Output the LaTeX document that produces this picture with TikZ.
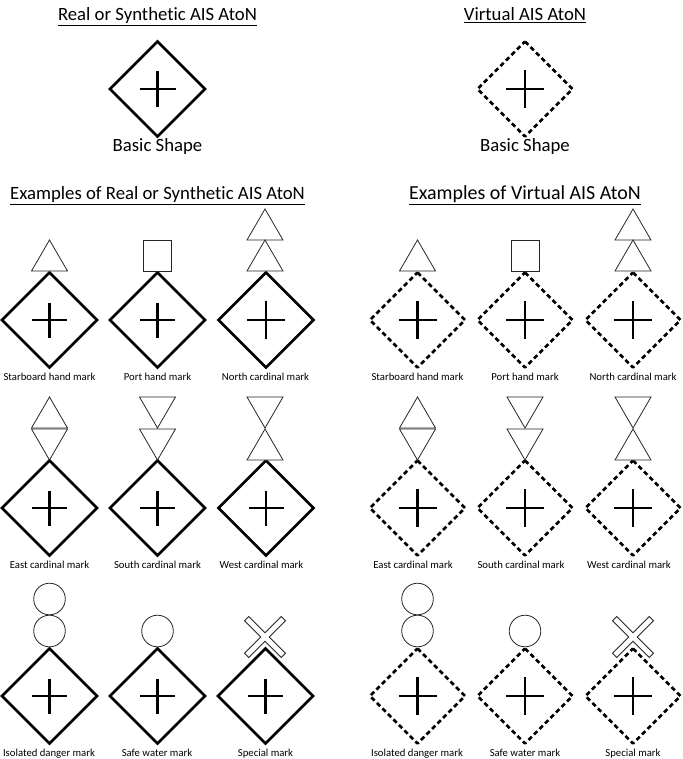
\documentclass[tikz,border=0pt]{standalone}
\usepackage{fontspec}
\setmainfont[Ligatures=NoCommon]{Carlito}
\tikzset{
  x=1pt,y=-1pt,
  title/.style={inner sep=0pt,font=\fontsize{18.75}{20}\selectfont,anchor=base},
  widetitle/.style={inner sep=0pt,font=\fontsize{19.95}{21}\selectfont,anchor=base},
  caption/.style={inner sep=0pt,font=\fontsize{10.7}{12}\selectfont,anchor=base,text=black},
  markshape/.style={draw=black!85,line width=0.8pt,fill=white,line join=miter},
  realline/.style={draw=black,line width=2.7pt,line join=miter},
  virtualline/.style={draw=black,line width=2.7pt,dash pattern=on 4.6pt off 3.2pt,line join=round},
  crossline/.style={draw=black,line width=2.8pt},
  pics/real/.style={code={
    \path[realline] (0,-47.5) -- (47.5,0) -- (0,47.5) -- (-47.5,0) -- cycle;
    \path[crossline] (-#1,0) -- (#1,0) (0,-#1) -- (0,#1);
  }},
  pics/virtual/.style={code={
    \path[virtualline] (0,-47.5) -- (47.5,0) -- (0,47.5) -- (-47.5,0) -- cycle;
    \path[crossline] (-#1,0) -- (#1,0) (0,-#1) -- (0,#1);
  }},
  % marks, drawn from the point given as the top of the 31 pt tall cell
  pics/up/.style={code={\path[markshape] (0,0) -- (18,31) -- (-18,31) -- cycle;}},
  pics/down/.style={code={\path[markshape] (-18,0) -- (18,0) -- (0,31) -- cycle;}},
  pics/box/.style={code={\path[markshape] (-14,0) rectangle (14,31);}},
  pics/ball/.style={code={\path[markshape] (0,16) circle[radius=15.8];}},
  pics/xmark/.style={code={\path[markshape,rotate=45]
     (-3,-26) -- (3,-26) -- (3,-3) -- (26,-3) -- (26,3) -- (3,3)
     -- (3,26) -- (-3,26) -- (-3,3) -- (-26,3) -- (-26,-3) -- (-3,-3) -- cycle;}},
}
\begin{document}
\begin{tikzpicture}
\useasboundingbox (0,0) rectangle (682,759);
% headings
\node[title] (t1) at (157.5,21) {\underline{Real or Synthetic AIS AtoN}};
\node[title] (t2) at (525,21) {\underline{Virtual AIS AtoN}};
\node[title] (t3) at (157.5,200) {\underline{Examples of Real or Synthetic AIS AtoN}};
\node[widetitle] (t4) at (525,200) {\underline{Examples of Virtual AIS AtoN}};
\node[title] (b1) at (157.5,152) {Basic Shape};
\node[title] (b2) at (525,152) {Basic Shape};
\pic at (157.5,89) {real=18};
\pic at (525,89) {virtual=19};
% row 1, left
\pic at (49.5,320) {real=17.5};
\pic at (157.5,320) {real=17.5};
\pic at (266,320) {real=19};
\pic at (49.5,240) {up};
\pic at (157.5,240) {box};
\pic at (265,209) {up};
\pic at (265,240) {up};
\node[caption] (l1) at (49.5,380) {Starboard hand mark};
\node[caption] (l2) at (157.5,380) {Port hand mark};
\node[caption] (l3) at (265.5,380) {North cardinal mark};
% row 1, right
\pic at (417.5,320) {virtual=19};
\pic at (525,320) {virtual=19};
\pic at (633,320) {virtual=19};
\pic at (417.5,240) {up};
\pic at (525,240) {box};
\pic at (633,209) {up};
\pic at (633,240) {up};
\node[caption] (r1) at (417.5,380) {Starboard hand mark};
\node[caption] (r2) at (525,380) {Port hand mark};
\node[caption] (r3) at (633,380) {North cardinal mark};
% row 2, left
\pic at (49.5,508) {real=17.5};
\pic at (157.5,508) {real=17.5};
\pic at (266,508) {real=17.5};
\pic at (49.5,397) {up};
\pic at (49.5,429) {down};
\pic at (157.5,397) {down};
\pic at (157.5,429) {down};
\pic at (265,397) {down};
\pic at (265,429) {up};
\node[caption] (l4) at (49.5,568) {East cardinal mark};
\node[caption] (l5) at (157.5,568) {South cardinal mark};
\node[caption] (l6) at (261.5,568) {West cardinal mark};
% row 2, right
\pic at (417.5,508) {virtual=19};
\pic at (525,508) {virtual=19};
\pic at (633,508) {virtual=19};
\pic at (417.5,397) {up};
\pic at (417.5,429) {down};
\pic at (525,397) {down};
\pic at (525,429) {down};
\pic at (633,397) {down};
\pic at (633,429) {up};
\node[caption] (r4) at (413,568) {East cardinal mark};
\node[caption] (r5) at (521,568) {South cardinal mark};
\node[caption] (r6) at (629,568) {West cardinal mark};
% row 3, left
\pic at (49.5,696) {real=17.5};
\pic at (157.5,696) {real=17.5};
\pic at (265.5,696) {real=17.5};
\pic at (49.5,583) {ball};
\pic at (49.5,615) {ball};
\pic at (157.5,615) {ball};
\pic at (265,637) {xmark};
\node[caption] (l7) at (49,756) {Isolated danger mark};
\node[caption] (l8) at (157,756) {Safe water mark};
\node[caption] (l9) at (265.5,756) {Special mark};
% row 3, right
\pic at (417.5,696) {virtual=19};
\pic at (525,696) {virtual=19};
\pic at (633,696) {virtual=19};
\pic at (417.5,583) {ball};
\pic at (417.5,615) {ball};
\pic at (525,615) {ball};
\pic at (633,637) {xmark};
\node[caption] (r7) at (417,756) {Isolated danger mark};
\node[caption] (r8) at (525,756) {Safe water mark};
\node[caption] (r9) at (633,756) {Special mark};
\end{tikzpicture}
\end{document}
